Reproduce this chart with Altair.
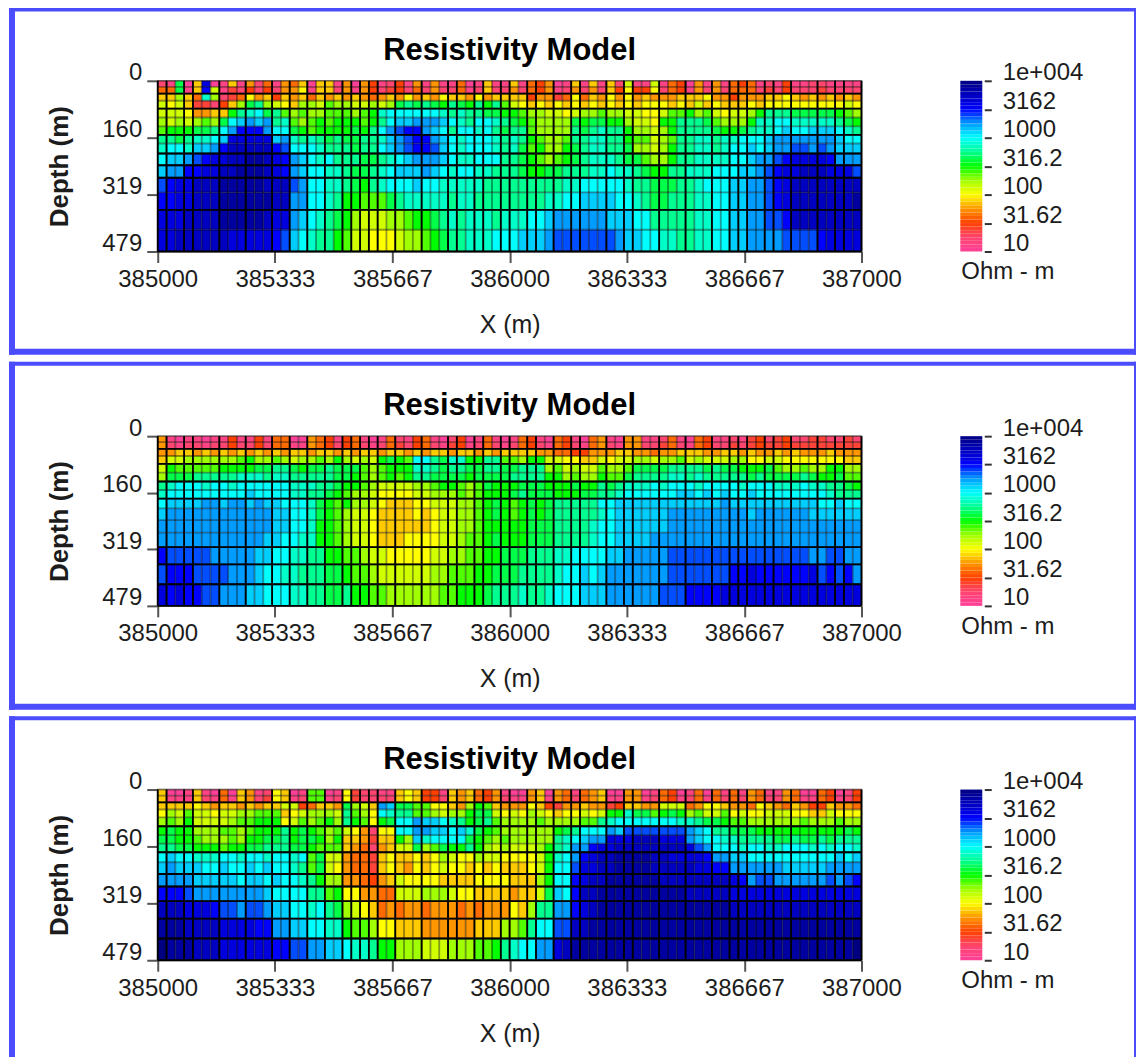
import altair as alt
import pandas as pd

# Cell code: a..y = resistivity level in quarter steps of half-decades (a = 10, y = 1e4 Ohm-m)
CODES = "abcdefghijklmnopqrstuvwxy"

P1 = [
"cbnahvabhb gcfbgfhahh bgagebcebg bgbbfabhbb hbfegabhbh bhcjbbjbfe agbgbfefbc bebbccbbbb",
"ffnbhujbdc ececggibhh cgbgecdecf cgccfbchcc gcfegbcgcg cheieeicfe bgcgcfffcd cecccdcccc",
"hhkhfpkcdf ighehghfhg hghgfghgig hgihhgighh hheggdfifh gigighgggh hhiggegggh hihghghghg",
"jijhddcehk nokjihkkjl kkjjkjknon onmonmomol jihihihihi hihihiiihi hjhihhhihi iiiiiiiiji",
"jjjigghhmo pqnolklkkl llklmpqqqq qqpopoonnm mlkkjjijkk lkkjjiijll mkljijjkmo oonnnnnmlk",
"kjkjklknqr srsoplklml mmmlmoqrrs ssrqpoqqpo nmlkkkknmn nmmkjjimmo oonlkkkmpp qqppppponm",
"lmmmnnoqsu uusqqnmlmm mmnmoqstuu srqoqqpqon oolkkkkono poomkkjkmo ooonmmnopp qrqqrrrqpo",
"oonoppqrvv vvvrspopon onnooprstu usrqpqqqpo pomlkkloop poomlljklo oppoppqqqr sssssssrqq",
"pqqprrsuww wwwutqqqpo oonooqrstu utrqpqqqpo pnlmkkmnop poonkkjkmo oppopqqrqr ssttstsrrr",
"qrrstuvvww xxwvusrqpq ooonnopqrs ssrqppqqqo onmlklmnop pponnlkkmo oppppqqrss tuvvvvusss",
"rssuuvvwwx xxwvusrqqp ponnopqrrr srqpqqppoo onmmnnooop pqpponmmoo pppqqqrrst uvvwwwvvvt",
"tuvvwwwxxx xxwwwtsqqp ponmopqqqr qqpppppooo ooooooppqq qqqpoonnno opqqqrrsst uvwwwwwwww",
"uuvvwwwxxx xxxwwssqqp ommlllnopp pppoppoooo ooooppqqrr rrqqponnoo oppqqrrsst uvwwwwwwwx",
"vvvwwwwxxx xxwvvsrqpo nmkjjjkklm mnopopppop ppqqrsssss srrrqqoooo oppqqrrsst tuwwwwwwww",
"vvwwwwwwvv vvvutrqpoo mljjiiijkk lmnoopppqq qrrrsttttt ttsrrqqppo oppqqrrsss sttttuvvvv",
]
P2 = [
"gbabbabbeb bebffaagfe befbabfcbe fbaceabfba bfebafebaf gbaggbbcfb afebbcbdec deccddccdc",
"gcbccbccec cecffbbgfe cefcbcfdce fcbdebcfcb cfecbfecbf gcbggccdfc bfeccdcded dedddddddd",
"gghhghghgh ghghghhghh ghghhghhgh ghhghhghgh hhhggffeeg gghhggfggh hhgghhghgg hghggghggg",
"hjjkkkkkkl mkklkjkklk mkjkjmnmlq qonppmmool lkmmjjiihh jijjkkjkkl jkjjjkkiij jiiiiiiihh",
"jmlllllmmm mnnoonmnno nnnlklmmmp ponoonnoon noookljkjj lkklnnnnoo oononnmmmn lkklkkmmkk",
"knnnooooop ppoppooooo nnmlklmlmo onnnnmnnnn oooommklkk mllnoooopp opooooonon nnnonmmnll",
"opqqqpqqpq qqqqqpppoo nmmlkjjjjk klmmlklnmm mnnnmmmnmm onopppqpqq qpqqqqpqqq pppqppoonm",
"pqqqqqqqqq rqqqqppoon mlkkjiiiij jkkklklmmm nonnnmmmnn oopqqqqqqr rqrqrqqrqq qqqqqqpooo",
"qrrrrssrss rsrrqqqpnm lmkkjihhhi ijjjkklmnm lmnmnooooo qqrrrrrrrr rrrrsrrrrr rrrrrqqrqq",
"rsssssssss sssrrqqpnm lkjjihhhhi hijjkklmnm lmnmnooooo pqrrrrrrss sssssssrss ssssrrrrrr",
"ssssssssss sssrrqqpmm lkjjihhhhh hijjkklmmm mmnnnoooop qqrrrrrrss ssssssssss ssssssssss",
"ssssssssss ssrrqqppmm lkjjihhhii iijjkllmnm mmnnnoooop qqrrrrssss ssssssssss ssssssssss",
"utttttssss srrqqppoom mllkjjiiii ijjkkllmmn nnoooppqqq qrrssssstt tttttttttt ttttssttss",
"tuuuttttss srqqppooon nmllkjjjjj jkklllmmnn noooopqqrq rssssssstt tttttuuvuu uuuuvtutus",
"vuvuuttsss rrqqqppoon nommllkkkk kkllmmmnoo opoopqqqrr rssssssttt uuuuvvvvvv vvvvvvvvvv",
]
P3 = [
"haabhbafah gbcihablla bidccbbhih eebhghfegb aaghagfbfg haaggabfea bfafbfbgfb bgfaafeabe",
"hbbbhcbfbh gcdihbcllb cidcccchih eechghfegc bbghbgfcfg hbbggbcfeb cfbfcfcgfc cgfbbfebce",
"hhhhihghhg hghhjjefhh gnkjhsrnnl liihgkmlhg ggihedgghg gdehhggjjj fgiihggfih gfhgeehggf",
"ikjljjijjk klllhijkkk jolkiqpool lkjkkmnnji jikjihiiji jmmpnnlmnm kljjlijiij jjiihhjiii",
"klkmjjjjkl lmmmijlklm komlimnqqs rrqpomnolk kkklkkkkll opqqqqqqqp ponnmllkkk kkklkkklkk",
"mnmmkkkllk lmmmomnmlk ljigciiqqs srrqrpnmlk kkkkkmnoqq qsrttttttt srqoonnnmm mmmmmmmmnm",
"nnmmlkkklk mmnnomnnmk mhhgdhhmkr pqqqqnmlkl kkkkkopqrs svvvwwwvvv srqqppoooo nnonnonooo",
"oonnmmmlmm nnooonnmll lhgfcghjjn klnmmomkjk jjjkmopssu vvwwwwwwww vtsqqqpqqp pqqqpqpqqp",
"qrqqpppqqp qqpqqpqlnj jgffdhihhi hikjiikjji iiijmpqsuv wwxxxxwwvv vvussrrqqq qqqqqqqrqr",
"rsrrrqqrqq rqrqqpolnj igffdhihgi hijiihihih hhijmqqtvv wwxxxxwwww wvvuusssss srrrrrssss",
"ssssrrrrrq rrqrqqpomk kggfeghjii iihhhhiiii hhhkmqquvw wxxxxxxwww wwwwwvustt sssssststu",
"uuutssssss ssrqqqqool miiggffjjj kkkjiihhhh ghhjnrquww xxxxxxxxxx wwwwwvvvvv vvvvvvvvvv",
"wwwvvvutts ttsrrqqpqo nkjihfgfgg fgggfgfggg ihkoossuvw xxxxxxxxxx xxxxxwwwww wwwwwwwwww",
"xxxwwwwvvv vuussrrqqp pmllkiihhh gggggghhhk kloqqttwwx xxxxxxxxxx xxxxxxxxxx xxxxxxxxxx",
"yxxxwwwvvv vvvuuttssr rqppommkkk jjjkkkllmo pqqssvwxxx xxxxxxxxxx xxxxxxxxxx xxxxxxxxxy",
]

X_START = 385000
X_STEP = 25
N_COLS = 80
DEPTHS = [0, 17, 36, 56, 78, 103, 128, 152, 176, 204, 237, 272, 313, 362, 418, 479]
X_TICKS = [385000, 385333, 385667, 386000, 386333, 386667, 387000]
Y_TICKS = [0, 160, 319, 479]
CB_TICKS = [10, 31.62, 100, 316.2, 1000, 3162, 10000]

STRONG_COLS = [0, 1, 3, 4, 7, 10, 13, 15, 17, 19, 21, 22, 23, 24, 25, 27, 30, 33, 34, 36, 37, 39,
               40, 42, 43, 45, 47, 48, 51, 53, 54, 57, 60, 63, 65, 66, 67, 69, 70, 72, 75, 77, 78, 80]
STRONG_ROWS = [
    [2, 4, 7, 9, 10, 11, 13, 15],
    [2, 4, 6, 8, 12, 13, 14, 15],
    [2, 5, 8, 10, 11, 12, 13, 14, 15],
]

STOPS = [0, 0.5, 1, 1.5, 2, 2.5, 3, 3.5, 4, 4.5, 5, 6]
COLORS = ["#ff4098", "#ff4570", "#ff4000", "#ff9600", "#ffff00", "#a0ff00", "#00ff00",
          "#00ff90", "#00ffff", "#009cff", "#0000ff", "#000080"]

FRAME = "#4c4cff"
TEXT = "#1c1c1c"
FONT = "Liberation Sans"
WIDTH = 705
FRAME_RIGHT = 980

color_enc = alt.Color("level:Q", legend=None,
                      scale=alt.Scale(domain=STOPS, range=COLORS, interpolate="rgb"))


def cells(rows):
    out = []
    for r, row in enumerate(rows):
        for c, ch in enumerate(row.replace(" ", "")):
            out.append({"x0": X_START + c * X_STEP, "x1": X_START + (c + 1) * X_STEP,
                        "d0": DEPTHS[r], "d1": DEPTHS[r + 1], "level": CODES.index(ch) * 0.25})
    return pd.DataFrame(out)


def panel(rows, height, top, bottom, strong_rows, closed=True):
    xs = alt.Scale(domain=[385000, 387000], nice=False, zero=False)
    ys = alt.Scale(domain=[0, 479], reverse=True, nice=False, zero=False)
    dummy = alt.Data(values=[{"a": 1}])

    def bar(l, r, t, b):
        return alt.Chart(dummy).mark_rect(color=FRAME).encode(
            x=alt.value(l), x2=alt.value(r), y=alt.value(t), y2=alt.value(b))

    frame = [bar(-149, -143, top, bottom), bar(-149, FRAME_RIGHT, top, top + 4),
             bar(FRAME_RIGHT - 2, FRAME_RIGHT, top, bottom)]
    if closed:
        frame.append(bar(-149, FRAME_RIGHT, bottom - 6, bottom))

    heat = alt.Chart(cells(rows)).mark_rect(strokeWidth=0).encode(
        x=alt.X("x0:Q", scale=xs, title="X (m)", axis=alt.Axis(
            values=X_TICKS, format="d", grid=False, domain=False, tickSize=11, tickWidth=2,
            tickColor="#555555", labelFont=FONT, labelFontSize=24, labelColor=TEXT, labelPadding=5,
            labelOverlap=False, labelFlush=False,
            titleFont=FONT, titleFontSize=25, titleFontWeight="normal", titleColor=TEXT, titlePadding=21)),
        x2="x1:Q",
        y=alt.Y("d0:Q", scale=ys, title="Depth (m)", axis=alt.Axis(
            values=Y_TICKS, grid=False, domain=False, tickSize=11, tickWidth=2, tickColor="#555555",
            labelFont=FONT, labelFontSize=24, labelColor=TEXT, labelPadding=5, labelOffset=-8,
            labelOverlap=False, labelFlush=False, labelBaseline="middle",
            titleFont=FONT, titleFontSize=26, titleFontWeight="bold", titleColor=TEXT,
            titleX=-85, titleY=height / 2)),
        y2="d1:Q",
        color=color_enc,
    )

    all_cols = pd.DataFrame({"x": [X_START + c * X_STEP for c in range(N_COLS + 1)]})
    strong_c = pd.DataFrame({"x": [X_START + c * X_STEP for c in STRONG_COLS]})
    all_rows = pd.DataFrame({"d": DEPTHS})
    strong_r = pd.DataFrame({"d": [DEPTHS[i] for i in strong_rows]})

    def vgrid(df, width, op):
        return alt.Chart(df).mark_rule(color="#000000", strokeWidth=width, opacity=op).encode(
            x=alt.X("x:Q", scale=xs, axis=None))

    def hgrid(df, width, op):
        return alt.Chart(df).mark_rule(color="#000000", strokeWidth=width, opacity=op).encode(
            y=alt.Y("d:Q", scale=ys, axis=None))

    steps = [i * 0.125 for i in range(48)]
    ramp = pd.DataFrame({"level": [s + 0.0625 for s in steps],
                         "lo": [10 ** (1 + s / 2) for s in steps],
                         "hi": [10 ** (1 + (s + 0.125) / 2) for s in steps],
                         "a": 0, "b": 1})
    colorbar = alt.Chart(ramp).mark_rect(strokeWidth=0).encode(
        x=alt.X("a:Q", axis=None, scale=alt.Scale(domain=[0, 1], range=[804, 826], nice=False)),
        x2="b:Q",
        y=alt.Y("lo:Q", title=None,
                scale=alt.Scale(type="log", domain=[10, 10000], nice=False),
                axis=alt.Axis(orient="right", offset=123, values=CB_TICKS, grid=False, domain=False,
                              tickSize=7, tickWidth=2, tickColor="#333333", labelFont=FONT,
                              labelFontSize=24, labelColor=TEXT, labelPadding=11, labelOffset=-8,
                              labelOverlap=False, labelFlush=False, labelBaseline="middle",
                              labelExpr="datum.value >= 10000 ? '1e+004' : '' + datum.value")),
        y2="hi:Q",
        color=color_enc,
    )

    title = alt.Chart(dummy).mark_text(font=FONT, fontSize=31, fontWeight="bold", color="#000000",
                                       align="center", baseline="middle").encode(
        x=alt.value(352.5), y=alt.value(-30), text=alt.value("Resistivity Model"))
    unit = alt.Chart(dummy).mark_text(font=FONT, fontSize=24, color=TEXT,
                                      align="left", baseline="middle").encode(
        x=alt.value(805), y=alt.value(height + 21), text=alt.value("Ohm - m"))

    return alt.layer(
        *frame, heat,
        vgrid(all_cols, 1.8, 0.4), hgrid(all_rows, 1.8, 0.4),
        vgrid(strong_c, 1.8, 1), hgrid(strong_r, 1.8, 1),
        colorbar, title, unit,
    ).resolve_scale(x="independent", y="independent").properties(width=WIDTH, height=height)


chart = alt.vconcat(
    panel(P1, 171, -73.5, 274.5, STRONG_ROWS[0]),
    panel(P2, 170, -74.5, 274, STRONG_ROWS[1]),
    panel(P3, 171, -73.5, 268, STRONG_ROWS[2], closed=False),
    spacing=4,
).properties(padding={"top": -3, "left": 0, "right": 0, "bottom": 0},
             background="white").configure_view(stroke="#aaaaaa", strokeWidth=1.5)

chart.save("out.html", embed_options={"renderer": "svg", "actions": False})
